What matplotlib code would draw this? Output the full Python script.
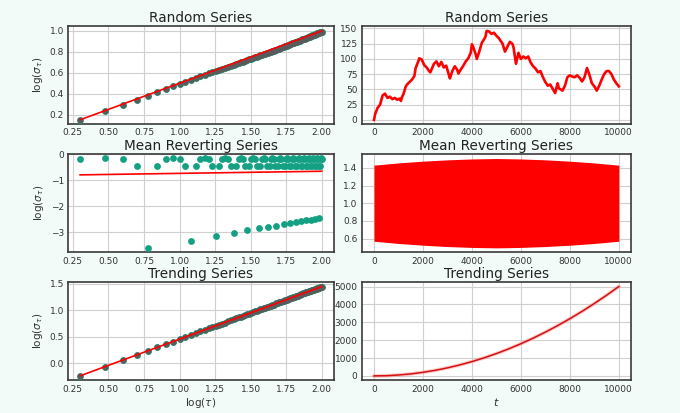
import numpy as np
import matplotlib
matplotlib.use("Agg")
import matplotlib.pyplot as plt

# ---------------- data ----------------
lags = list(range(2, 101))

rand_logsig = [0.150, 0.236, 0.296, 0.342, 0.382, 0.416, 0.446, 0.472, 0.494, 0.514,
               0.533, 0.550, 0.566, 0.581, 0.595, 0.608, 0.618, 0.629, 0.639, 0.649,
               0.658, 0.667, 0.676, 0.684, 0.692, 0.700, 0.707, 0.714, 0.721, 0.728,
               0.734, 0.741, 0.747, 0.753, 0.759, 0.765, 0.770, 0.776, 0.781, 0.786,
               0.791, 0.796, 0.801, 0.806, 0.811, 0.816, 0.821, 0.826, 0.830, 0.835,
               0.840, 0.844, 0.848, 0.852, 0.856, 0.860, 0.864, 0.868, 0.872, 0.876,
               0.880, 0.883, 0.887, 0.891, 0.894, 0.898, 0.901, 0.905, 0.908, 0.911,
               0.915, 0.918, 0.921, 0.924, 0.927, 0.930, 0.933, 0.936, 0.939, 0.942,
               0.945, 0.948, 0.951, 0.953, 0.956, 0.959, 0.962, 0.965, 0.967, 0.970,
               0.972, 0.975, 0.978, 0.980, 0.983, 0.985, 0.988, 0.990, 0.993]
rand_fit = [0.500, 0.000]   # slope, intercept

mr_logsig = [-0.20, -0.15, -0.20, -0.45, -3.63, -0.45, -0.20, -0.15, -0.20, -0.45,
             -3.35, -0.45, -0.20, -0.15, -0.20, -0.45, -3.15, -0.45, -0.20, -0.15,
             -0.20, -0.45, -3.05, -0.45, -0.20, -0.15, -0.20, -0.45, -2.93, -0.45,
             -0.20, -0.15, -0.20, -0.45, -2.85, -0.45, -0.20, -0.15, -0.20, -0.45,
             -2.80, -0.45, -0.20, -0.15, -0.20, -0.45, -2.75, -0.45, -0.20, -0.15,
             -0.20, -0.45, -2.70, -0.45, -0.20, -0.15, -0.20, -0.45, -2.65, -0.45,
             -0.20, -0.15, -0.20, -0.45, -2.62, -0.45, -0.20, -0.15, -0.20, -0.45,
             -2.58, -0.45, -0.20, -0.15, -0.20, -0.45, -2.55, -0.45, -0.20, -0.15,
             -0.20, -0.45, -2.53, -0.45, -0.20, -0.15, -0.20, -0.45, -2.50, -0.45,
             -0.20, -0.15, -0.20, -0.45, -2.47, -0.45, -0.20, -0.15, -0.20]
mr_fit = [0.082, -0.825]

trend_logsig = [-0.24, -0.07, 0.06, 0.15, 0.23, 0.30, 0.36, 0.41, 0.46, 0.50,
                0.53, 0.57, 0.60, 0.63, 0.66, 0.68, 0.71, 0.73, 0.75, 0.77,
                0.79, 0.81, 0.83, 0.85, 0.87, 0.88, 0.90, 0.91, 0.93, 0.94,
                0.95, 0.97, 0.98, 0.99, 1.00, 1.02, 1.03, 1.04, 1.05, 1.06,
                1.07, 1.08, 1.09, 1.10, 1.11, 1.12, 1.13, 1.14, 1.15, 1.16,
                1.16, 1.17, 1.18, 1.19, 1.20, 1.20, 1.21, 1.22, 1.23, 1.23,
                1.24, 1.25, 1.26, 1.26, 1.27, 1.28, 1.28, 1.29, 1.29, 1.30,
                1.31, 1.31, 1.32, 1.32, 1.33, 1.34, 1.34, 1.35, 1.35, 1.36,
                1.36, 1.37, 1.37, 1.38, 1.38, 1.39, 1.39, 1.40, 1.40, 1.41,
                1.41, 1.42, 1.42, 1.43, 1.43, 1.44, 1.44, 1.45, 1.45]
trend_fit = [0.994, -0.538]

# random walk series (read every ~100 steps)
rw_t = [0, 50, 150, 250, 350, 450, 550, 650, 750, 850, 950, 1050, 1100, 1150, 1200,
        1300, 1350, 1450, 1550, 1650, 1700, 1800, 1850, 1950, 2050, 2150, 2250, 2300,
        2450, 2550, 2650, 2750, 2850, 2950, 3050, 3100, 3200, 3300, 3400, 3450, 3550,
        3650, 3750, 3850, 3950, 4000, 4050, 4150, 4200, 4300, 4400, 4550, 4600, 4700,
        4800, 4900, 5000, 5100, 5250, 5350, 5450, 5550, 5650, 5700, 5800, 5900, 6000,
        6100, 6200, 6300, 6400, 6500, 6600, 6700, 6800, 6900, 7000, 7100, 7200, 7300,
        7400, 7500, 7550, 7700, 7800, 7900, 8000, 8100, 8200, 8300, 8400, 8500, 8600,
        8700, 8800, 8900, 9000, 9100, 9200, 9300, 9400, 9500, 9600, 9700, 9800, 9900,
        10000]
rw_y = [0, 10, 20, 25, 40, 43, 36, 38, 34, 36, 33, 35, 31, 38, 42,
        55, 58, 62, 66, 72, 85, 95, 101, 99, 90, 86, 80, 78,
        92, 96, 88, 95, 86, 89, 75, 68, 80, 88, 82, 76, 83,
        89, 96, 101, 110, 124, 120, 108, 100, 112, 126, 136, 146, 145,
        141, 143, 138, 134, 125, 112, 120, 128, 125, 119, 92, 110, 100,
        104, 101, 104, 94, 88, 84, 78, 80, 70, 62, 56, 58, 51,
        44, 60, 52, 48, 56, 70, 73, 71, 70, 73, 69, 63, 70,
        85, 74, 60, 55, 48, 56, 66, 75, 80, 80, 75, 66, 60,
        55]

# mean reverting series envelope
mr_t = [0, 1000, 2000, 3000, 4000, 5000, 6000, 7000, 8000, 9000, 10000]
mr_top = [1.43, 1.455, 1.475, 1.49, 1.50, 1.505, 1.50, 1.49, 1.475, 1.455, 1.43]
mr_bot = [0.57, 0.545, 0.525, 0.51, 0.50, 0.495, 0.50, 0.51, 0.525, 0.545, 0.57]

# trending series
tr_t = [0, 500, 1000, 1500, 2000, 2500, 3000, 3500, 4000, 4500, 5000, 5500, 6000,
        6500, 7000, 7500, 8000, 8500, 9000, 9500, 10000]
tr_y = [0, 12, 50, 112, 200, 312, 450, 612, 800, 1012, 1250, 1512, 1800,
        2112, 2450, 2812, 3200, 3612, 4050, 4512, 5000]

# ---------------- style ----------------
TEAL = '#14a083'
BG = '#f2fbf8'
plt.rcParams['font.family'] = ['DejaVu Sans']

fig = plt.figure(figsize=(6.8, 4.13), dpi=100, facecolor=BG)

rows = [(0.699, 0.237), (0.389, 0.238), (0.079, 0.238)]
left_x, left_w = 0.100, 0.391
right_x, right_w = 0.532, 0.396
TFS = 9.8


def style(ax):
    ax.set_facecolor('white')
    ax.grid(True, color='#d0d0d0', linewidth=0.8)
    ax.set_axisbelow(True)
    for s in ax.spines.values():
        s.set_color('#3a3a3a')
        s.set_linewidth(1.2)
    ax.tick_params(axis='both', length=0, labelsize=6.5, colors='#333333', pad=3)


x = np.log10(np.array(lags, dtype=float))
titles = ['Random Series', 'Mean Reverting Series', 'Trending Series']
logsigs = [rand_logsig, mr_logsig, trend_logsig]
fits = [rand_fit, mr_fit, trend_fit]

for i, (b, h) in enumerate(rows):
    ax = fig.add_axes([left_x, b, left_w, h])
    style(ax)
    y = np.array(logsigs[i])
    ax.scatter(x, y, s=24, color=TEAL, zorder=3, linewidths=0)
    if i != 1:
        ax.plot(x, y, 'o', ms=3.4, color='#5b5b5b', alpha=0.85, zorder=4, lw=0)
    ax.plot(x, fits[i][0] * x + fits[i][1], color='red', lw=1.2, zorder=5)
    ax.set_title(titles[i], fontsize=TFS, color='#222222', pad=3)
    ax.set_ylabel(r'log($\sigma_\tau$)', fontsize=7.5, color='#333333', labelpad=3)
    ax.set_xticks([0.25, 0.5, 0.75, 1.0, 1.25, 1.5, 1.75, 2.0])
    ax.set_xticklabels(['0.25', '0.50', '0.75', '1.00', '1.25', '1.50', '1.75', '2.00'])
    if i == 0:
        ax.set_yticks([0.2, 0.4, 0.6, 0.8, 1.0])
    elif i == 1:
        ax.set_yticks([0, -1, -2, -3])
        ax.set_ylim(-3.78, 0.0)
    else:
        ax.set_yticks([0.0, 0.5, 1.0, 1.5])
        ax.set_xlabel(r'log($\tau$)', fontsize=7.5, color='#333333', labelpad=2)

# right column
ax = fig.add_axes([right_x, rows[0][0], right_w, rows[0][1]])
style(ax)
ax.plot(rw_t, rw_y, color='red', lw=1.9)
ax.set_title('Random Series', fontsize=TFS, color='#222222', pad=3)
ax.set_yticks([0, 25, 50, 75, 100, 125, 150])
ax.set_xticks([0, 2000, 4000, 6000, 8000, 10000])

ax = fig.add_axes([right_x, rows[1][0], right_w, rows[1][1]])
style(ax)
ax.fill_between(mr_t, mr_bot, mr_top, color='red', lw=0)
ax.set_title('Mean Reverting Series', fontsize=TFS, color='#222222', pad=3)
ax.set_yticks([0.6, 0.8, 1.0, 1.2, 1.4])
ax.set_xticks([0, 2000, 4000, 6000, 8000, 10000])
ax.margins(x=0.05, y=0.05)

ax = fig.add_axes([right_x, rows[2][0], right_w, rows[2][1]])
style(ax)
ax.plot(tr_t, tr_y, color='#ff9090', lw=2.6, alpha=0.5)
ax.plot(tr_t, tr_y, color='#d41010', lw=1.1)
ax.set_title('Trending Series', fontsize=TFS, color='#222222', pad=3)
ax.set_yticks([0, 1000, 2000, 3000, 4000, 5000])
ax.set_xticks([0, 2000, 4000, 6000, 8000, 10000])
ax.set_xlabel(r'$t$', fontsize=8, color='#333333', labelpad=2)

fig.savefig('out.png', dpi=100, facecolor=BG)
